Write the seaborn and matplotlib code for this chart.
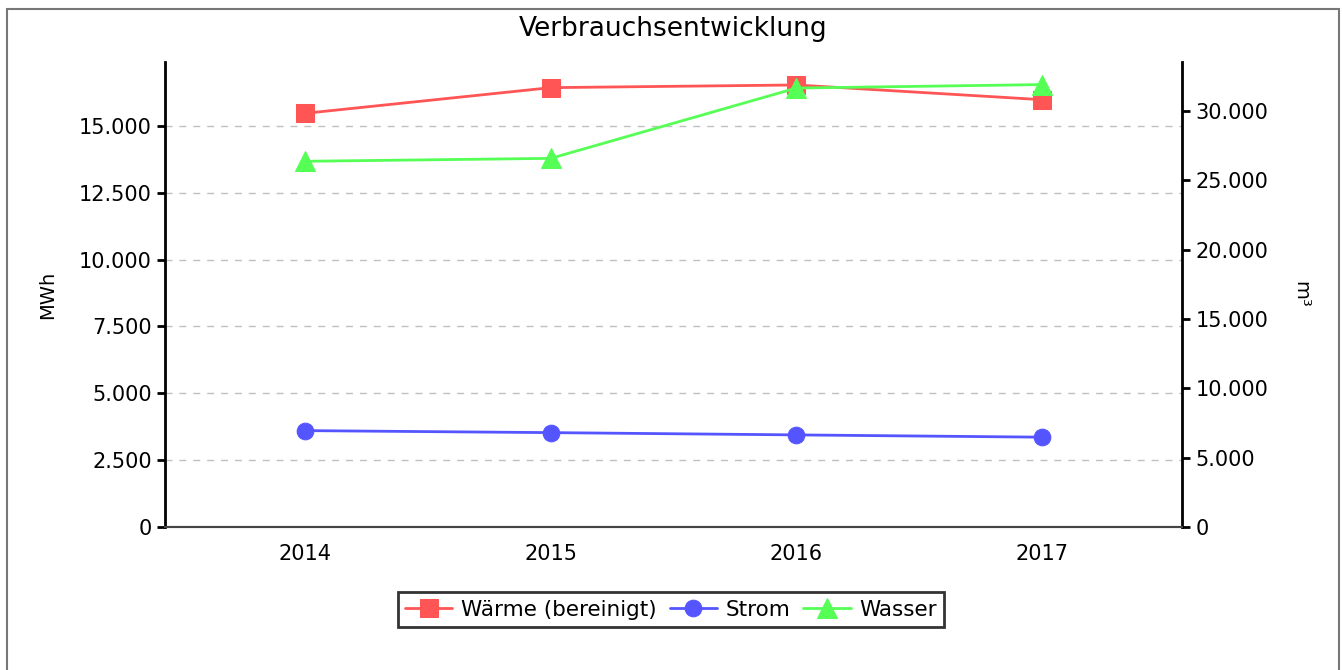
import matplotlib
matplotlib.use("Agg")
import matplotlib.pyplot as plt
import matplotlib.ticker as mticker
from matplotlib.patches import Rectangle
import seaborn as sns

years = [2014, 2015, 2016, 2017]
waerme = [15470, 16430, 16530, 15980]   # MWh
strom = [3605, 3530, 3445, 3360]        # MWh
wasser = [26370, 26580, 31650, 31900]   # m³

sns.set_style("white")
plt.rcParams['font.family'] = ['DejaVu Sans']
plt.rcParams['text.color'] = 'black'
plt.rcParams['axes.labelcolor'] = 'black'
plt.rcParams['xtick.color'] = 'black'
plt.rcParams['ytick.color'] = 'black'


def de_fmt(x, pos):
    return f"{x:,.0f}".replace(",", ".")


fig = plt.figure(figsize=(13.42, 6.70), dpi=100)
ax = fig.add_axes([0.1230, 0.2134, 0.7578, 0.6941])
ax2 = ax.twinx()

red, blue, green = "#ff5555", "#5555ff", "#55ff55"

sns.lineplot(x=years, y=waerme, ax=ax, color=red, marker="s", markersize=13,
             markeredgecolor=red, linewidth=2, label="Wärme (bereinigt)", legend=False)
sns.lineplot(x=years, y=strom, ax=ax, color=blue, marker="o", markersize=12,
             markeredgecolor=blue, linewidth=2, label="Strom", legend=False)
sns.lineplot(x=years, y=wasser, ax=ax2, color=green, marker="^", markersize=14,
             markeredgecolor=green, linewidth=2, label="Wasser", legend=False)

ax.set_xlim(2013.43, 2017.57)
ax.set_ylim(0, 17390)
ax2.set_ylim(0, 33530)
ax.set_xticks(years)
ax.set_yticks(range(0, 17500, 2500))
ax2.set_yticks(range(0, 35000, 5000))
ax.yaxis.set_major_formatter(mticker.FuncFormatter(de_fmt))
ax2.yaxis.set_major_formatter(mticker.FuncFormatter(de_fmt))

ax.grid(axis="y", color="#c0c0c0", linestyle=(0, (5, 5)), linewidth=1)
ax.set_axisbelow(True)

for a in (ax, ax2):
    a.spines["top"].set_visible(False)
    a.spines["left"].set_color("black")
    a.spines["right"].set_color("black")
    a.spines["left"].set_linewidth(2)
    a.spines["right"].set_linewidth(2)
    a.spines["bottom"].set_color("#444444")
    a.spines["bottom"].set_linewidth(1.5)
ax2.spines["left"].set_visible(False)
ax.spines["right"].set_visible(False)

ax.tick_params(axis="y", direction="out", length=6, width=2, labelsize=15, color="black", left=True)
ax2.tick_params(axis="y", direction="out", length=6, width=2, labelsize=15, color="black", right=True)
ax.tick_params(axis="x", length=0, labelsize=15, pad=12)

ax.set_ylabel("MWh", fontsize=14, labelpad=16)
ax2.set_ylabel("m³", fontsize=14, rotation=270, labelpad=30)
ax.set_xlabel("")

fig.text(0.5015, 0.957, "Verbrauchsentwicklung", ha="center", va="center", fontsize=19)

h1, l1 = ax.get_legend_handles_labels()
h2, l2 = ax2.get_legend_handles_labels()
leg = fig.legend(h1 + h2, l1 + l2, loc="center", bbox_to_anchor=(0.5, 0.09), ncol=3,
                 fontsize=15.5, frameon=True, fancybox=False, handlelength=2.2,
                 columnspacing=0.6, handletextpad=0.4, borderpad=0.35)
leg.get_frame().set_edgecolor("black")
leg.get_frame().set_linewidth(2)

fig.patches.append(Rectangle((7 / 1342, -0.01), 1332 / 1342, 1 - 9 / 670 + 0.01,
                             transform=fig.transFigure, fill=False,
                             edgecolor="#777777", linewidth=1.5))

fig.savefig("out.png", dpi=100)
